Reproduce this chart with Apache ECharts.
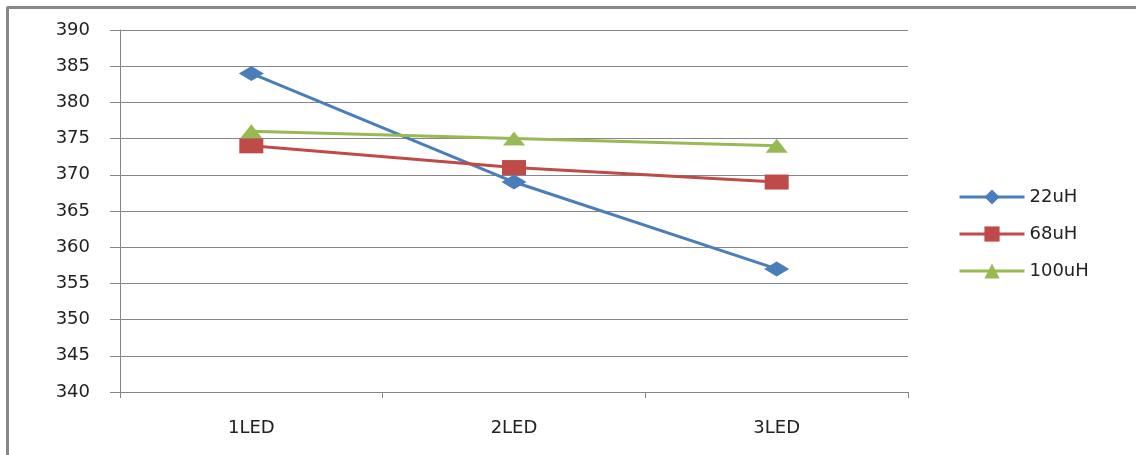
<!DOCTYPE html>
<html><head><meta charset="utf-8">
<script src="https://cdn.jsdelivr.net/npm/echarts@6/dist/echarts.min.js"></script>
<style>html,body{margin:0;padding:0;background:#fff}#c{width:1136px;height:455px}</style>
</head><body><div id="c"></div>
<script>
const categories = ['1LED', '2LED', '3LED'];
const seriesNames = ['22uH', '68uH', '100uH'];
const values22 = [384, 369, 357];
const values68 = [374, 371, 369];
const values100 = [376, 375, 374];
const yTicks = {min: 340, max: 390, interval: 5};

const colors = ['#4A7EBB', '#BE4B48', '#98B954'];
const font = 'DejaVu Sans';
const chart = echarts.init(document.getElementById('c'));
function mk(name, data, color, symbol, size) {
  return {
    name, type: 'line', data, symbol, symbolSize: size,
    lineStyle: {color, width: 3}, itemStyle: {color},
    emphasis: {disabled: true}, animation: false
  };
}
chart.setOption({
  animation: false,
  grid: {left: 120, right: 228, top: 30, bottom: 63, containLabel: false},
  xAxis: {
    type: 'category', data: categories, boundaryGap: true,
    axisLine: {lineStyle: {color: '#868686', width: 1}},
    axisTick: {show: true, length: 6, lineStyle: {color: '#868686'}},
    axisLabel: {color: '#222', fontFamily: font, fontSize: 18, margin: 27}
  },
  yAxis: {
    type: 'value', min: yTicks.min, max: yTicks.max, interval: yTicks.interval,
    axisLine: {show: true, lineStyle: {color: '#868686', width: 1}},
    axisTick: {show: true, length: 10, lineStyle: {color: '#868686'}},
    splitLine: {lineStyle: {color: '#868686', width: 1}},
    axisLabel: {color: '#222', fontFamily: font, fontSize: 18, margin: 30}
  },
  legend: {
    orient: 'vertical', left: 953, top: 183, itemGap: 19,
    itemWidth: 65, itemHeight: 19,
    lineStyle: {width: 3},
    textStyle: {color: '#222', fontFamily: font, fontSize: 18, padding: [0, 0, 0, 0]},
    data: seriesNames
  },
  graphic: [
    {type: 'line', shape: {x1: 7, y1: 7.5, x2: 1136, y2: 7.5}, style: {stroke: '#888', lineWidth: 3}},
    {type: 'line', shape: {x1: 7.5, y1: 7, x2: 7.5, y2: 455}, style: {stroke: '#888', lineWidth: 3}}
  ],
  series: [
    mk(seriesNames[0], values22, colors[0], 'diamond', [25, 15]),
    mk(seriesNames[1], values68, colors[1], 'rect', [24, 15]),
    mk(seriesNames[2], values100, colors[2], 'triangle', [22, 14])
  ]
});
</script></body></html>
